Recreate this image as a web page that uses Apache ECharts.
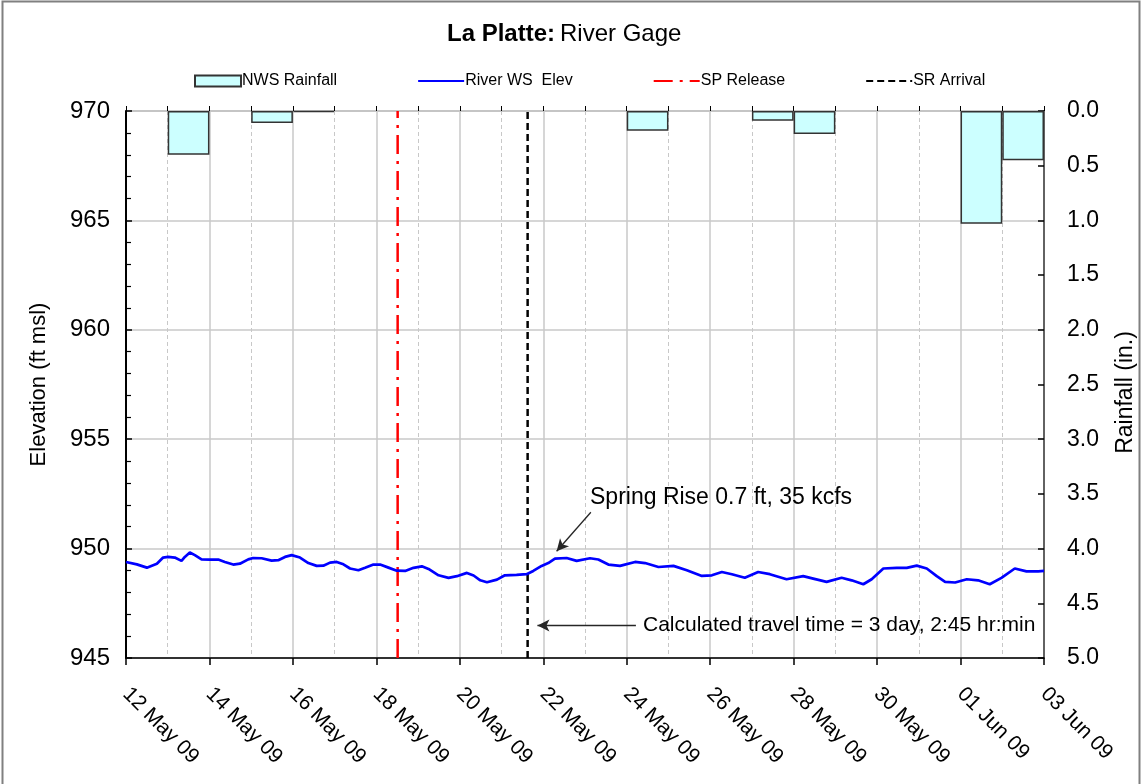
<!DOCTYPE html>
<html>
<head>
<meta charset="utf-8">
<title>La Platte: River Gage</title>
<script src="https://cdn.jsdelivr.net/npm/echarts@6/dist/echarts.min.js"></script>
<style>
  html, body { margin: 0; padding: 0; background: #fff; }
  #chart { width: 1142px; height: 784px; }
</style>
</head>
<body>
<div id="chart"></div>
<script>
// Date tick labels (every second day, starting 12 May 2009)
const dayLabels = ['12 May 09', '14 May 09', '16 May 09', '18 May 09', '20 May 09', '22 May 09',
  '24 May 09', '26 May 09', '28 May 09', '30 May 09', '01 Jun 09', '03 Jun 09'];

// Daily rainfall buckets (one bar per day, 12 May .. 02 Jun)
const rainDays = ['12 May', '13 May', '14 May', '15 May', '16 May', '17 May', '18 May', '19 May',
  '20 May', '21 May', '22 May', '23 May', '24 May', '25 May', '26 May', '27 May', '28 May',
  '29 May', '30 May', '31 May', '01 Jun', '02 Jun'];
const rainfall = [null, 0.40, null, 0.11, 0.01, null, null, null, null, null, null, null,
  0.18, null, null, 0.09, 0.21, null, null, null, 1.03, 0.45];

// River water-surface elevation, time in days since 12 May 2009 00:00
const riverDay = [0.00, 0.26, 0.50, 0.74, 0.89, 1.01, 1.17, 1.33, 1.41, 1.53, 1.65, 1.81, 2.01,
  2.21, 2.37, 2.57, 2.73, 2.93, 3.05, 3.25, 3.49, 3.65, 3.81, 3.97, 4.17, 4.37, 4.57, 4.73,
  4.89, 5.05, 5.21, 5.37, 5.57, 5.73, 5.93, 6.09, 6.29, 6.49, 6.69, 6.89, 7.09, 7.25, 7.49,
  7.73, 7.93, 8.17, 8.33, 8.49, 8.65, 8.89, 9.08, 9.36, 9.60, 9.76, 9.96, 10.12, 10.28, 10.56,
  10.80, 11.12, 11.32, 11.56, 11.84, 12.20, 12.44, 12.76, 13.12, 13.44, 13.80, 14.04, 14.28,
  14.52, 14.83, 15.15, 15.43, 15.83, 16.23, 16.47, 16.79, 17.15, 17.39, 17.67, 17.87, 18.15,
  18.47, 18.71, 18.95, 19.19, 19.43, 19.63, 19.87, 20.15, 20.42, 20.70, 20.98, 21.30, 21.58,
  21.86, 22.00];
const riverElev = [949.39, 949.28, 949.13, 949.31, 949.59, 949.62, 949.59, 949.44, 949.62,
  949.82, 949.70, 949.51, 949.50, 949.50, 949.39, 949.27, 949.31, 949.51, 949.57, 949.56,
  949.45, 949.47, 949.62, 949.70, 949.59, 949.34, 949.21, 949.22, 949.36, 949.39, 949.28,
  949.09, 949.01, 949.12, 949.27, 949.27, 949.13, 948.99, 948.98, 949.12, 949.19, 949.07,
  948.78, 948.66, 948.74, 948.89, 948.77, 948.55, 948.46, 948.58, 948.78, 948.80, 948.83,
  948.98, 949.21, 949.34, 949.54, 949.57, 949.44, 949.56, 949.50, 949.27, 949.21, 949.39,
  949.34, 949.16, 949.21, 949.01, 948.75, 948.78, 948.93, 948.83, 948.67, 948.93, 948.83,
  948.60, 948.74, 948.63, 948.48, 948.67, 948.55, 948.37, 948.60, 949.09, 949.12, 949.12,
  949.22, 949.09, 948.74, 948.48, 948.45, 948.60, 948.55, 948.37, 948.66, 949.09, 948.96,
  948.96, 948.98];

// Release at the upstream dam and computed arrival at this gage (days since 12 May)
const spRelease = 6.51;
const srArrival = 9.625;

const FONT = 'Arial, "Liberation Sans", sans-serif';
const elevMin = 945, elevMax = 970;

const chart = echarts.init(document.getElementById('chart'), null, { renderer: 'canvas' });

// line-type legend entries show only the stroke (no marker)
const lineLegend = name => ({ name, itemStyle: { opacity: 0 } });

const option = {
  backgroundColor: '#ffffff',
  animation: false,
  textStyle: { fontFamily: FONT, color: '#000' },
  title: {
    text: '{b|La Platte:} {n|River Gage}',
    left: 442,
    top: 17,
    textStyle: {
      rich: {
        b: { fontFamily: FONT, fontSize: 24, fontWeight: 'bold', color: '#000' },
        n: { fontFamily: FONT, fontSize: 24, fontWeight: 'normal', color: '#000' }
      }
    }
  },
  legend: {
    left: 189,
    top: 68,
    itemWidth: 46,
    itemHeight: 11,
    itemGap: 80,
    textStyle: { fontFamily: FONT, fontSize: 16, color: '#000', padding: [0, 0, 0, -4] },
    data: [
      { name: 'NWS Rainfall', icon: 'rect' },
      lineLegend('River WS  Elev'),
      lineLegend('SP Release'),
      lineLegend('SR Arrival')
    ]
  },
  grid: {
    left: 126, right: 98, top: 111, bottom: 126,
    outerBoundsMode: 'none',
    containLabel: false,
    show: true, borderColor: '#a6a6a6', borderWidth: 1.5, backgroundColor: 'transparent'
  },
  xAxis: [
    {
      type: 'value',
      min: 0, max: 22, interval: 2,
      axisLine: { show: true, onZero: false, lineStyle: { color: '#000', width: 1.5 } },
      axisTick: { show: true, inside: false, length: 7, lineStyle: { color: '#000', width: 1.5 } },
      axisLabel: {
        rotate: -45, margin: 33, fontSize: 21, color: '#000', fontFamily: FONT,
        formatter: v => dayLabels[Math.round(v / 2)] || ''
      },
      splitLine: { show: true, lineStyle: { color: '#c8c8c8', width: 1.5 } },
      minorTick: { show: false, splitNumber: 2 },
      minorSplitLine: { show: true, lineStyle: { color: '#c8c8c8', width: 1, type: [4, 3] } }
    },
    {
      type: 'category',
      data: rainDays,
      position: 'bottom',
      boundaryGap: true,
      axisLine: { show: false },
      axisTick: { show: true, inside: true, interval: 0, length: 5, lineStyle: { color: '#000', width: 1 } },
      axisLabel: { show: false },
      splitLine: { show: false }
    }
  ],
  yAxis: [
    {
      type: 'value',
      min: elevMin, max: elevMax, interval: 5,
      name: 'Elevation (ft msl)',
      nameLocation: 'middle',
      nameRotate: 90,
      nameGap: 76,
      nameTextStyle: { fontFamily: FONT, fontSize: 22, color: '#000' },
      axisLine: { show: true, lineStyle: { color: '#000', width: 2 } },
      axisTick: { show: true, inside: true, length: 6, lineStyle: { color: '#000', width: 1.5 } },
      minorTick: { show: true, splitNumber: 5, length: 5, lineStyle: { color: '#000', width: 1.2 } },
      axisLabel: { margin: 16, fontSize: 24, color: '#000', fontFamily: FONT },
      splitLine: { show: true, lineStyle: { color: '#c8c8c8', width: 1.5 } }
    },
    {
      type: 'value',
      min: 0, max: 5, interval: 0.5,
      inverse: true,
      position: 'right',
      name: 'Rainfall (in.)',
      nameLocation: 'middle',
      nameRotate: 90,
      nameGap: 70,
      nameTextStyle: { fontFamily: FONT, fontSize: 23, color: '#000', padding: [0, 16, 0, 0] },
      axisLine: { show: true, lineStyle: { color: '#404040', width: 1.5 } },
      axisTick: { show: true, inside: true, length: 6, lineStyle: { color: '#000', width: 1.5 } },
      axisLabel: { margin: 23, fontSize: 23, color: '#000', fontFamily: FONT,
        formatter: v => v.toFixed(1) },
      splitLine: { show: false }
    }
  ],
  series: [
    {
      name: 'NWS Rainfall',
      type: 'bar',
      xAxisIndex: 1,
      yAxisIndex: 1,
      data: rainfall,
      barWidth: '100%',
      barCategoryGap: '0%',
      itemStyle: { color: '#ccffff', borderColor: '#333333', borderWidth: 1.5 },
      z: 2
    },
    {
      name: 'River WS  Elev',
      type: 'line',
      xAxisIndex: 0,
      yAxisIndex: 0,
      data: riverDay.map((d, i) => [d, riverElev[i]]),
      symbol: 'none',
      smooth: false,
      lineStyle: { color: '#0000ff', width: 2.7 },
      itemStyle: { color: '#0000ff' },
      z: 4,
      markLine: {
        silent: true,
        symbol: ['none', 'arrow'],
        symbolSize: [9, 12],
        label: { show: false },
        lineStyle: { color: '#262626', width: 1.3, type: 'solid' },
        data: [
          [{ coord: [11.14, 951.66] }, { coord: [10.32, 949.88] }],
          [{ coord: [12.22, 946.48] }, { coord: [9.86, 946.48] }]
        ]
      }
    },
    {
      name: 'SP Release',
      type: 'line',
      xAxisIndex: 0,
      yAxisIndex: 0,
      data: [[spRelease, elevMin], [spRelease, elevMax]],
      symbol: 'none',
      lineStyle: { color: '#ff0000', width: 2.5, type: [19, 7, 3, 7] },
      itemStyle: { color: '#ff0000' },
      z: 3
    },
    {
      name: 'SR Arrival',
      type: 'line',
      xAxisIndex: 0,
      yAxisIndex: 0,
      data: [[srArrival, elevMin], [srArrival, elevMax]],
      symbol: 'none',
      lineStyle: { color: '#000000', width: 2.5, type: [7, 4] },
      itemStyle: { color: '#000000' },
      z: 3
    }
  ]
};

chart.setOption(option);

// Annotation texts placed in data coordinates
const notes = [
  { text: 'Spring Rise 0.7 ft, 35 kcfs', at: [11.12, 952.33], size: 23 },
  { text: 'Calculated travel time = 3 day, 2:45 hr:min', at: [12.39, 946.48], size: 21 }
];
const graphics = notes.map(n => {
  const p = chart.convertToPixel({ xAxisIndex: 0, yAxisIndex: 0 }, n.at);
  return {
    type: 'text',
    x: p[0], y: p[1],
    style: { text: n.text, font: n.size + 'px ' + FONT, fill: '#000', textAlign: 'left', textVerticalAlign: 'middle' },
    z: 10
  };
});
graphics.push({
  type: 'rect',
  shape: { x: 2.5, y: 1.5, width: 1137, height: 800 },
  style: { fill: 'none', stroke: '#808080', lineWidth: 2 },
  silent: true,
  z: 0
});
chart.setOption({ graphic: graphics });
</script>
</body>
</html>
